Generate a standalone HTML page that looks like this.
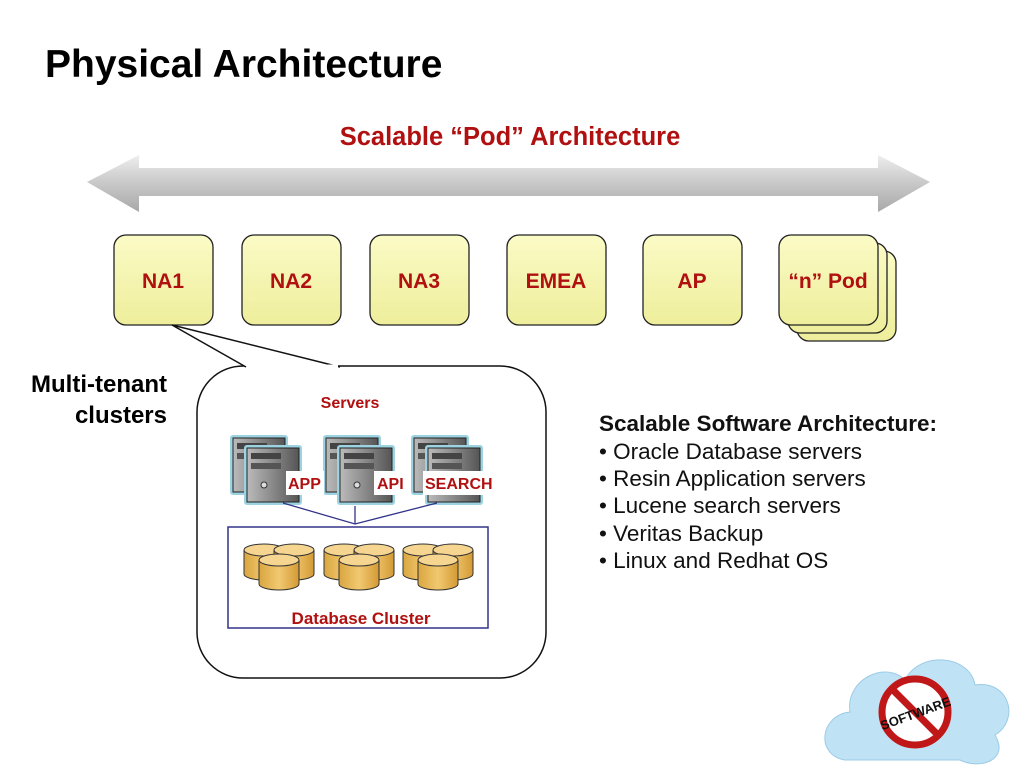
<!DOCTYPE html>
<html><head><meta charset="utf-8"><style>
body{margin:0;background:#fff;width:1024px;height:768px;overflow:hidden}
svg{display:block;font-family:"Liberation Sans",Arial,sans-serif}
</style></head><body>
<svg width="1024" height="768" viewBox="0 0 1024 768">
<defs>
<linearGradient id="ar" x1="0" y1="0" x2="0" y2="1"><stop offset="0" stop-color="#eeeeee"/><stop offset="0.5" stop-color="#c8c8c8"/><stop offset="1" stop-color="#a8a8a8"/></linearGradient>
<linearGradient id="pod" x1="0" y1="0" x2="0" y2="1"><stop offset="0" stop-color="#fbfbc6"/><stop offset="1" stop-color="#eeee9c"/></linearGradient>
<linearGradient id="cyl" x1="0" y1="0" x2="1" y2="0"><stop offset="0" stop-color="#d9a640"/><stop offset="0.5" stop-color="#f2c870"/><stop offset="1" stop-color="#d39a35"/></linearGradient>
<linearGradient id="srv" x1="0" y1="0" x2="1" y2="0"><stop offset="0" stop-color="#bbb"/><stop offset="1" stop-color="#555"/></linearGradient>
<g id="c"><path d="M0,6 v24 a20,6 0 0 0 40,0 v-24" fill="url(#cyl)" stroke="#333" stroke-width="1"/><ellipse cx="20" cy="6" rx="20" ry="6" fill="#f5d590" stroke="#333" stroke-width="1"/></g>
<g id="cg"><use href="#c" x="0" y="0"/><use href="#c" x="30" y="0"/><use href="#c" x="15" y="10"/></g>
<g id="s"><rect x="0" y="0" width="58" height="60" fill="#9dd3e0" rx="3"/><rect x="3" y="3" width="52" height="54" fill="url(#srv)" stroke="#222"/><rect x="7" y="8" width="30" height="6" fill="#444"/><rect x="7" y="18" width="30" height="6" fill="#555"/></g>
<g id="sg"><use href="#s" x="0" y="0"/><use href="#s" x="14" y="10"/><circle cx="34" cy="50" r="3" fill="#ddd" stroke="#333"/></g>
</defs>
<text x="45" y="77" font-size="39" font-weight="bold" fill="#000">Physical Architecture</text>
<text x="510" y="145" font-size="25.5" font-weight="bold" fill="#b01010" text-anchor="middle">Scalable “Pod” Architecture</text>
<polygon points="87,182 139,155 139,168 878,168 878,155 930,182 878,212 878,196 139,196 139,212" fill="url(#ar)"/>
<g stroke="#222" stroke-width="1.3" fill="url(#pod)">
<rect x="114" y="235" width="99" height="90" rx="12"/>
<rect x="242" y="235" width="99" height="90" rx="12"/>
<rect x="370" y="235" width="99" height="90" rx="12"/>
<rect x="507" y="235" width="99" height="90" rx="12"/>
<rect x="643" y="235" width="99" height="90" rx="12"/>
<rect x="797" y="251" width="99" height="90" rx="12"/>
<rect x="788" y="243" width="99" height="90" rx="12"/>
<rect x="779" y="235" width="99" height="90" rx="12"/>
</g>
<g font-size="21" font-weight="bold" fill="#b01010" text-anchor="middle">
<text x="163" y="288">NA1</text><text x="291" y="288">NA2</text><text x="419" y="288">NA3</text>
<text x="556" y="288">EMEA</text><text x="692" y="288">AP</text><text x="828" y="288">“n” Pod</text>
</g>
<path d="M247,366 H500 A46,46 0 0 1 546,412 V632 A46,46 0 0 1 500,678 H243 A46,46 0 0 1 197,632 V412 A46,46 0 0 1 243,366 Z" fill="#fff" stroke="#111" stroke-width="1.5"/>
<polyline points="246,367 172,325 340,367" fill="#fff" stroke="#111" stroke-width="1.5"/>
<line x1="248" y1="366" x2="338" y2="366" stroke="#fff" stroke-width="3"/>
<text x="167" y="392" font-size="24" font-weight="bold" text-anchor="end">Multi-tenant</text>
<text x="167" y="423" font-size="24" font-weight="bold" text-anchor="end">clusters</text>
<text x="350" y="408" font-size="16" font-weight="bold" fill="#b01010" text-anchor="middle">Servers</text>
<use href="#sg" x="230" y="435"/><use href="#sg" x="323" y="435"/><use href="#sg" x="411" y="435"/>
<rect x="286" y="471" width="38" height="24" fill="#fff"/><rect x="374" y="471" width="34" height="24" fill="#fff"/><rect x="423" y="471" width="74" height="24" fill="#fff"/>
<g font-size="16" font-weight="bold" fill="#b01010"><text x="288" y="489">APP</text><text x="377" y="489">API</text><text x="425" y="489">SEARCH</text></g>
<polyline points="283,503 355,524 437,503" fill="none" stroke="#33338a" stroke-width="1.3"/>
<line x1="355" y1="506" x2="355" y2="524" stroke="#33338a" stroke-width="1.3"/>
<rect x="228" y="527" width="260" height="101" fill="#fff" stroke="#33338a" stroke-width="1.5"/>
<use href="#cg" x="244" y="544"/><use href="#cg" x="324" y="544"/><use href="#cg" x="403" y="544"/>
<text x="361" y="624" font-size="17" font-weight="bold" fill="#b01010" text-anchor="middle">Database Cluster</text>
<g font-size="22.5" fill="#111">
<text x="599" y="431" font-weight="bold">Scalable Software Architecture:</text>
<text x="599" y="459">• Oracle Database servers</text>
<text x="599" y="486">• Resin Application servers</text>
<text x="599" y="513">• Lucene search servers</text>
<text x="599" y="541">• Veritas Backup</text>
<text x="599" y="568">• Linux and Redhat OS</text>
</g>
<path d="M845,760 C815,755 820,715 850,712 C845,680 885,660 905,680 C920,650 970,655 975,685 C1010,680 1020,720 995,735 C1010,760 980,770 960,760 Z" fill="#bfe3f5" stroke="#9ccbe6"/>
<circle cx="915" cy="712" r="33" fill="#fff" stroke="#c01818" stroke-width="7"/>
<line x1="893" y1="690" x2="937" y2="734" stroke="#c01818" stroke-width="7"/>
<text x="915" y="718" font-size="13" font-weight="bold" fill="#111" text-anchor="middle" transform="rotate(-20 915 712)">SOFTWARE</text>
</svg>
</body></html>
